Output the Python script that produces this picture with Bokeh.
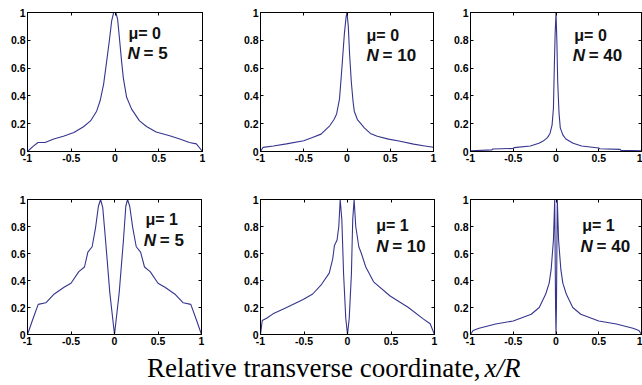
from bokeh.plotting import figure
from bokeh.layouts import row, column
from bokeh.models import Range1d, LinearAxis, FixedTicker, NumeralTickFormatter, Label, CustomJSTickFormatter
from bokeh.embed import file_html
from bokeh.resources import INLINE

# ---------------- data ----------------
x_ticks = [-1, -0.5, 0, 0.5, 1]
y_ticks = [0, 0.2, 0.4, 0.6, 0.8, 1]

mu0_n5_x = [-1.0, -0.94, -0.88, -0.8, -0.7, -0.59, -0.47, -0.36, -0.28, -0.21, -0.17, -0.13,
            -0.095, -0.064, -0.038, -0.015, 0.01, 0.03, 0.05, 0.075, 0.095, 0.133, 0.19, 0.28,
            0.36, 0.47, 0.625, 0.74, 0.85, 0.93, 1.0]
mu0_n5_y = [0.0, 0.035, 0.065, 0.065, 0.09, 0.11, 0.137, 0.178, 0.22, 0.29, 0.365, 0.485,
            0.65, 0.8, 0.94, 1.0, 1.0, 0.95, 0.82, 0.65, 0.53, 0.39, 0.305, 0.22,
            0.18, 0.14, 0.113, 0.09, 0.065, 0.055, 0.0]

mu0_n10_x = [-1.0, -0.97, -0.85, -0.7, -0.5, -0.4, -0.3, -0.2, -0.15, -0.12, -0.087, -0.065,
             -0.05, -0.03, -0.01, 0.0, 0.015, 0.03, 0.05, 0.07, 0.084, 0.12, 0.16, 0.2, 0.27,
             0.35, 0.48, 0.6, 0.77, 0.9, 1.0]
mu0_n10_y = [0.0, 0.03, 0.04, 0.055, 0.077, 0.1, 0.125, 0.185, 0.23, 0.27, 0.377, 0.55,
             0.68, 0.85, 0.97, 1.0, 0.9, 0.7, 0.5, 0.36, 0.29, 0.23, 0.2, 0.17, 0.13,
             0.11, 0.089, 0.075, 0.053, 0.04, 0.03]

mu0_n40_x = [-1.0, -0.75, -0.74, -0.5, -0.49, -0.3, -0.2, -0.15, -0.1, -0.07, -0.046, -0.03,
             -0.02, -0.01, 0.0, 0.01, 0.02, 0.035, 0.05, 0.08, 0.115, 0.2, 0.3, 0.5, 0.51,
             0.75, 0.76, 1.0]
mu0_n40_y = [0.005, 0.012, 0.018, 0.022, 0.028, 0.04, 0.06, 0.075, 0.1, 0.13, 0.19, 0.31,
             0.6, 0.85, 1.0, 0.8, 0.5, 0.28, 0.17, 0.12, 0.09, 0.06, 0.04, 0.025, 0.02,
             0.015, 0.008, 0.005]

mu1_n5_x = [-1.0, -0.946, -0.877, -0.79, -0.7, -0.58, -0.5, -0.41, -0.345, -0.306, -0.257,
            -0.218, -0.185, -0.16, -0.135, -0.103, -0.054, 0.0, 0.054, 0.103, 0.13, 0.15,
            0.175, 0.21, 0.25, 0.3, 0.345, 0.41, 0.5, 0.58, 0.7, 0.79, 0.877, 0.946, 1.0]
mu1_n5_y = [0.0, 0.1, 0.223, 0.235, 0.296, 0.35, 0.38, 0.466, 0.5, 0.61, 0.65,
            0.79, 0.95, 1.0, 0.94, 0.7, 0.31, 0.0, 0.31, 0.7, 0.95, 1.0,
            0.95, 0.79, 0.65, 0.61, 0.5, 0.466, 0.38, 0.35, 0.296, 0.235, 0.223, 0.1, 0.0]

mu1_n10_x = [-1.0, -0.98, -0.93, -0.856, -0.7, -0.51, -0.4, -0.3, -0.21, -0.17, -0.15, -0.12,
             -0.1, -0.084, -0.065, -0.045, -0.02, 0.0, 0.02, 0.045, 0.06, 0.076, 0.095, 0.13,
             0.16, 0.21, 0.3, 0.49, 0.7, 0.87, 0.95, 1.0]
mu1_n10_y = [0.0, 0.104, 0.12, 0.153, 0.2, 0.26, 0.3, 0.37, 0.455, 0.56, 0.66, 0.7,
             0.8, 1.0, 0.85, 0.45, 0.12, 0.0, 0.12, 0.45, 0.85, 1.0, 0.8, 0.65,
             0.6, 0.5, 0.39, 0.285, 0.2, 0.116, 0.08, 0.0]

mu1_n40_x = [-1.0, -0.97, -0.9, -0.706, -0.5, -0.29, -0.196, -0.12, -0.08, -0.057, -0.03,
             -0.015, -0.01, -0.005, 0.0, 0.005, 0.01, 0.015, 0.03, 0.057, 0.08, 0.12, 0.196,
             0.29, 0.5, 0.706, 0.9, 0.97, 1.0]
mu1_n40_y = [0.0, 0.03, 0.046, 0.078, 0.1, 0.15, 0.2, 0.3, 0.38, 0.48, 0.7,
             1.0, 0.6, 0.2, 0.0, 0.2, 0.6, 1.0, 0.7, 0.48, 0.38, 0.3, 0.2,
             0.15, 0.1, 0.078, 0.046, 0.03, 0.0]

mu_text = ["\u03bc= 0", "\u03bc= 0", "\u03bc= 0", "\u03bc= 1", "\u03bc= 1", "\u03bc= 1"]
n_text = ["= 5", "= 10", "= 40", "= 5", "= 10", "= 40"]
x_label_main = "Relative transverse coordinate,"
x_label_ital = "x/R"

# ---------------- styling / layout ----------------
LINE = "#35358f"
TICK_FONT = "Liberation Sans"

# (width, height, border left, right, top, bottom, mu label x,y, N label x,y)
cfg = [
    (240, 180, 27, 38, 12, 29, 0.154, 0.849, 0.143, 0.705),
    (210, 180, 19, 17, 12, 29, 0.226, 0.835, 0.226, 0.690),
    (192, 180, 18, 1, 12, 29, 0.214, 0.835, 0.195, 0.690),
    (240, 170, 27, 39, 18, 14, 0.356, 0.853, 0.337, 0.696),
    (210, 170, 20, 16, 17, 16, 0.330, 0.808, 0.330, 0.650),
    (192, 170, 19, 1, 19, 14, 0.306, 0.810, 0.287, 0.650),
]
series = [(mu0_n5_x, mu0_n5_y), (mu0_n10_x, mu0_n10_y), (mu0_n40_x, mu0_n40_y),
          (mu1_n5_x, mu1_n5_y), (mu1_n10_x, mu1_n10_y), (mu1_n40_x, mu1_n40_y)]


def style_axis(ax, ticks, show_labels):
    ax.ticker = FixedTicker(ticks=ticks)
    ax.major_tick_in = 3
    ax.major_tick_out = 0
    ax.minor_tick_line_color = None
    ax.axis_line_color = "black"
    ax.major_tick_line_color = "black"
    if show_labels:
        ax.formatter = NumeralTickFormatter(format="0.[0]")
        ax.major_label_text_font = TICK_FONT
        ax.major_label_text_font_style = "bold"
        ax.major_label_text_font_size = "10.5px"
        ax.major_label_text_color = "black"
        ax.major_label_standoff = 2
    else:
        ax.formatter = CustomJSTickFormatter(code="return ''")
        ax.major_label_text_color = None
        ax.major_label_text_font_size = "1px"
        ax.major_label_standoff = 0


panels = []
for i, ((xs, ys), c) in enumerate(zip(series, cfg)):
    w, h, bl, br, bt, bb, mx, my, nx, ny = c
    p = figure(width=w, height=h, x_range=Range1d(-1, 1), y_range=Range1d(0, 1),
               output_backend="svg", toolbar_location=None,
               min_border_left=bl, min_border_right=br, min_border_top=bt, min_border_bottom=bb)
    p.grid.visible = False
    p.outline_line_color = "black"
    p.outline_line_alpha = 1.0
    p.background_fill_color = "white"
    p.border_fill_color = "white"
    style_axis(p.xaxis[0], x_ticks, True)
    style_axis(p.yaxis[0], y_ticks, True)
    top = LinearAxis()
    style_axis(top, x_ticks, False)
    p.add_layout(top, "above")
    right = LinearAxis()
    style_axis(right, y_ticks, False)
    p.add_layout(right, "right")

    p.line(xs, ys, line_color=LINE, line_width=1.1)

    p.add_layout(Label(x=mx, y=my, text=mu_text[i], text_font=TICK_FONT, text_font_style="bold",
                       text_font_size="16px", text_color="#111111", text_baseline="alphabetic"))
    p.add_layout(Label(x=nx, y=ny, text="N", text_font=TICK_FONT, text_font_style="bold italic",
                       text_font_size="17px", text_color="#111111", text_baseline="alphabetic"))
    p.add_layout(Label(x=nx, y=ny, x_offset=16, text=n_text[i], text_font=TICK_FONT,
                       text_font_style="bold", text_font_size="17px", text_color="#111111",
                       text_baseline="alphabetic"))
    panels.append(p)

lab = figure(width=642, height=35, x_range=Range1d(0, 642), y_range=Range1d(0, 35),
             output_backend="svg", toolbar_location=None, min_border=0)
lab.axis.visible = False
lab.grid.visible = False
lab.outline_line_color = None
lab.add_layout(Label(x=480, y=18, text=x_label_main,
                     text_font="Liberation Serif", text_font_size="27px", text_align="right",
                     text_baseline="alphabetic", text_color="black"))
lab.add_layout(Label(x=484, y=18, text=x_label_ital,
                     text_font="Liberation Serif", text_font_style="italic", text_font_size="27px",
                     text_align="left", text_baseline="alphabetic", text_color="black"))

layout = column(row(*panels[:3]), row(*panels[3:]), lab)
open("out.html", "w").write(file_html(layout, INLINE))
